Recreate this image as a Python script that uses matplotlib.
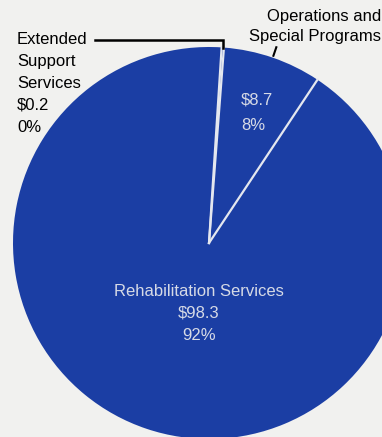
import numpy as np
import matplotlib.pyplot as plt

# data
labels = ["Extended\nSupport\nServices", "Operations and\nSpecial Programs", "Rehabilitation Services"]
amounts = [0.2, 8.7, 98.3]
percents = ["0%", "8%", "92%"]

plt.rcParams['font.family'] = ['Liberation Sans', 'DejaVu Sans']

W, H = 382, 437
fig = plt.figure(figsize=(W / 100, H / 100), dpi=100, facecolor='#f1f1ef')
ax = fig.add_axes([0, 0, 1, 1])

cx, cy, r = 209, 243, 196
blue = '#1b3ea4'
sep = '#e4e7ef'
# y axis is inverted below, so counterclock=True draws clockwise on screen
wedges, _ = ax.pie(amounts, center=(cx, cy), radius=r, startangle=-86.3,
                   counterclock=True, colors=[blue] * 3,
                   wedgeprops=dict(linewidth=0), frame=True)
ax.set_xlim(0, W)
ax.set_ylim(H, 0)   # pixel coords, y downwards
ax.set_aspect('equal')
ax.axis('off')

# white separators between the slices
for w in wedges:
    t = np.deg2rad(w.theta1)
    ax.plot([cx, cx + r * np.cos(t)], [cy, cy + r * np.sin(t)], color=sep, lw=1.6)

inner = '#d6dae6'
fs = 12
# inside labels
ax.text(241, 100, "$%.1f" % amounts[1], color=inner, fontsize=fs, ha='left', va='center')
ax.text(241, 126, percents[1], color=inner, fontsize=fs, ha='left', va='center')
ax.text(199, 292, labels[2], color=inner, fontsize=fs, ha='center', va='center')
ax.text(199, 313, "$%.1f" % amounts[2], color=inner, fontsize=fs, ha='center', va='center')
ax.text(199, 335, percents[2], color=inner, fontsize=fs, ha='center', va='center')

# outside labels, one line at a time
ext_lines = labels[0].split("\n") + ["$%.1f" % amounts[0], percents[0]]
for i, s in enumerate(ext_lines):
    ax.text(17, 40 + 21.8 * i, s, fontsize=fs, ha='left', va='center')
for i, s in enumerate(labels[1].split("\n")):
    ax.text(381, 17 + 20 * i, s, fontsize=fs, ha='right', va='center')

# leader lines, anchored on the wedge middles
w0 = wedges[0]
mid = np.deg2rad((w0.theta1 + w0.theta2) / 2)
ex = cx + r * np.cos(mid)
ax.plot([95, ex, ex], [40, 40, cy + r * np.sin(mid) + 1], color='black', lw=1.8,
        solid_joinstyle='miter')
w1 = wedges[1]
a1 = np.deg2rad((w1.theta1 + w1.theta2) / 2)
ax.plot([cx + (r + 2) * np.cos(a1), cx + (r + 11) * np.cos(a1)],
        [cy + (r + 2) * np.sin(a1), cy + (r + 11) * np.sin(a1)], color='black', lw=1.5)

plt.savefig('out.png', dpi=100, facecolor=fig.get_facecolor())
